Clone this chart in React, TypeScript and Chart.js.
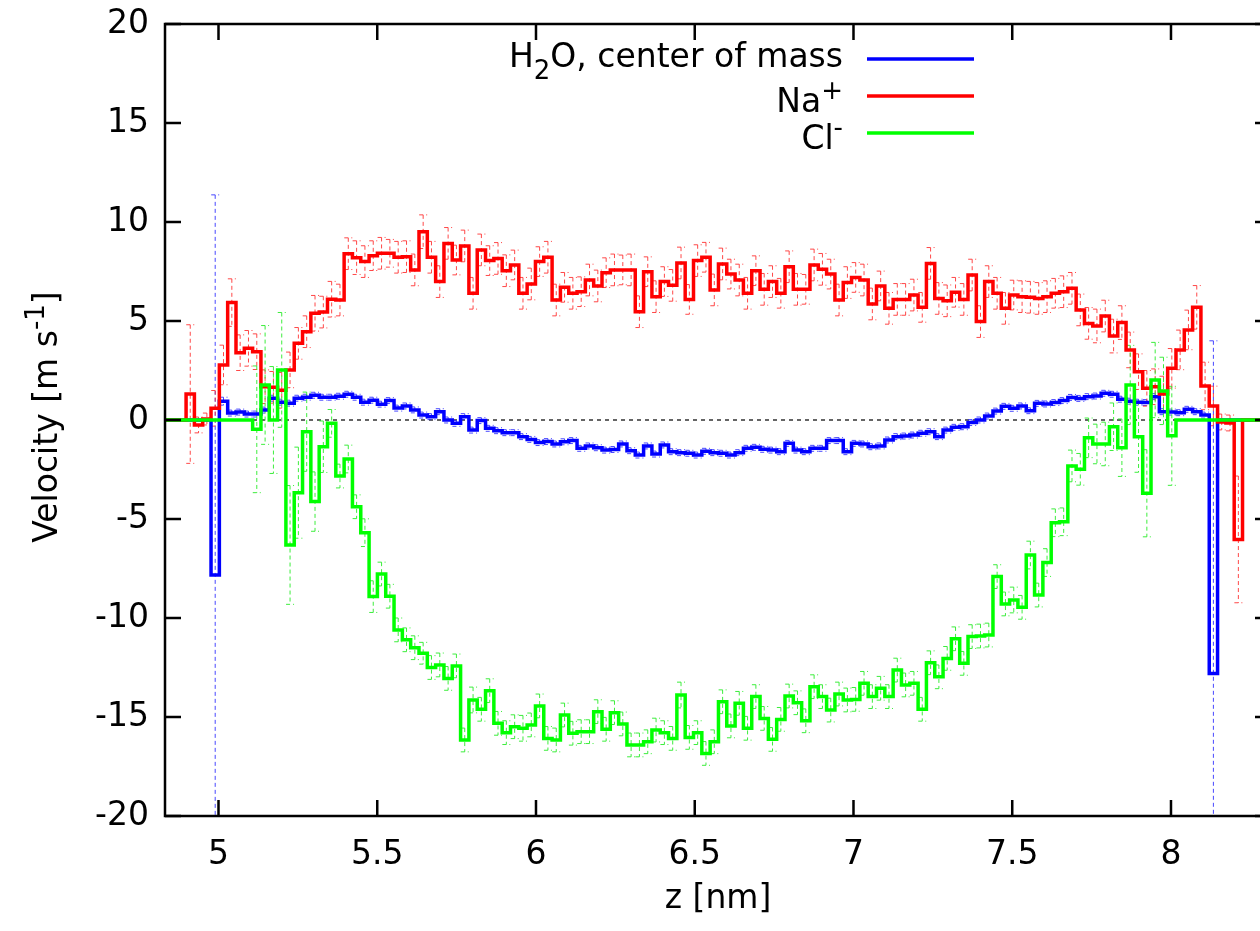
import React, { useEffect, useRef } from 'react';
import { Chart, registerables } from 'chart.js';

Chart.register(...registerables);

const FONT = '"DejaVu Sans", "Liberation Sans", Arial, sans-serif';

// bin grid (nm)
const FIRST_BIN_CENTER = 4.8324;
const BIN_WIDTH = 0.0262;

const X_MIN = 4.8315;
const X_MAX = 8.315;
const Y_MIN = -20;
const Y_MAX = 20;
const X_TICKS = [5, 5.5, 6, 6.5, 7, 7.5, 8];
const Y_TICKS = [-20, -15, -10, -5, 0, 5, 10, 15, 20];

const H2O_VELOCITY = [
  0, 0, 0, 0, 0, 0, -7.83, 0.95, 0.35, 0.4,
  0.3, 0.3, 0.5, 1.1, 0.9, 0.85, 1.1, 1.15, 1.25, 1.15,
  1.15, 1.2, 1.3, 1.15, 0.9, 1.0, 0.8, 0.98, 0.6, 0.71,
  0.51, 0.25, 0.17, 0.42, 0.0, -0.17, 0.17, -0.51, -0.03, -0.42,
  -0.54, -0.64, -0.64, -0.84, -0.98, -1.14, -1.09, -1.21, -1.1, -1.04,
  -1.43, -1.31, -1.4, -1.52, -1.49, -1.21, -1.55, -1.77, -1.31, -1.72,
  -1.26, -1.6, -1.65, -1.68, -1.77, -1.58, -1.65, -1.68, -1.77, -1.65,
  -1.43, -1.38, -1.48, -1.52, -1.6, -1.18, -1.52, -1.6, -1.43, -1.43,
  -1.04, -1.04, -1.6, -1.18, -1.21, -1.35, -1.31, -1.01, -0.84, -0.81,
  -0.76, -0.67, -0.59, -0.84, -0.51, -0.37, -0.34, -0.13, 0.0, 0.2,
  0.45, 0.69, 0.59, 0.71, 0.47, 0.84, 0.81, 0.88, 0.98, 1.14,
  1.09, 1.18, 1.21, 1.35, 1.3, 1.05, 0.95, 0.9, 0.88, 1.18,
  0.42, 0.4, 0.37, 0.54, 0.42, 0.25, -12.8, 0, 0, 0,
  0, 0, 0, 0,
];

const H2O_ERROR = [
  0, 0, 0, 0, 0, 0, 19.2, 0.2, 0.15, 0.15,
  0.15, 0.15, 0.15, 0.15, 0.15, 0.15, 0.15, 0.15, 0.15, 0.15,
  0.15, 0.15, 0.15, 0.15, 0.15, 0.15, 0.15, 0.15, 0.15, 0.15,
  0.15, 0.15, 0.15, 0.15, 0.15, 0.15, 0.15, 0.15, 0.15, 0.15,
  0.15, 0.15, 0.15, 0.15, 0.15, 0.15, 0.15, 0.15, 0.15, 0.15,
  0.15, 0.15, 0.15, 0.15, 0.15, 0.15, 0.15, 0.15, 0.15, 0.15,
  0.15, 0.15, 0.15, 0.15, 0.15, 0.15, 0.15, 0.15, 0.15, 0.15,
  0.15, 0.15, 0.15, 0.15, 0.15, 0.15, 0.15, 0.15, 0.15, 0.15,
  0.15, 0.15, 0.15, 0.15, 0.15, 0.15, 0.15, 0.15, 0.15, 0.15,
  0.15, 0.15, 0.15, 0.15, 0.15, 0.15, 0.15, 0.15, 0.15, 0.15,
  0.15, 0.15, 0.15, 0.15, 0.15, 0.15, 0.15, 0.15, 0.15, 0.15,
  0.15, 0.15, 0.15, 0.15, 0.15, 0.15, 0.15, 0.15, 0.15, 0.15,
  0.15, 0.15, 0.15, 0.15, 0.15, 0.15, 16.8, 0, 0, 0,
  0, 0, 0, 0,
];

const NA_VELOCITY = [
  0, 0, 0, 1.31, -0.25, 0.05, 0.59, 2.78, 5.93, 3.4,
  3.62, 3.45, 1.68, 1.65, 1.5, 2.53, 3.87, 4.46, 5.39, 5.45,
  6.1, 6.06, 8.4, 8.2, 8.0, 8.3, 8.42, 8.42, 8.22, 8.25,
  7.58, 9.51, 8.22, 6.99, 8.92, 8.08, 8.79, 6.4, 8.59, 8.05,
  8.16, 7.54, 7.83, 6.4, 6.87, 8.0, 8.22, 6.06, 6.7, 6.4,
  6.48, 7.07, 6.77, 7.44, 7.58, 7.58, 7.58, 5.47, 7.49, 6.23,
  6.99, 6.8, 7.93, 6.09, 8.05, 8.22, 6.57, 7.88, 7.37, 7.07,
  6.4, 7.54, 6.6, 6.99, 6.4, 7.74, 6.6, 6.6, 7.83, 7.61,
  7.37, 6.06, 6.94, 7.2, 7.07, 5.86, 6.77, 5.64, 6.09, 6.09,
  6.31, 5.69, 7.91, 6.14, 6.02, 6.45, 6.09, 7.32, 4.97, 6.99,
  6.4, 5.64, 6.31, 6.23, 6.2, 6.14, 6.23, 6.4, 6.48, 6.65,
  5.56, 4.88, 4.75, 5.25, 4.24, 4.92, 3.54, 2.44, 1.6, 1.68,
  1.31, 2.61, 3.54, 4.55, 5.69, 1.72, 0.71, -0.1, -0.15, -6.03,
  0, 0, 0, 0,
];

const NA_ERROR = [
  0, 0, 0, 3.5, 0.4, 0.3, 0.9, 1.0, 1.2, 0.9,
  0.9, 0.9, 0.85, 0.8, 0.9, 0.9, 0.8, 0.8, 0.9, 0.8,
  0.9, 0.8, 0.8, 0.85, 0.8, 0.75, 0.8, 0.7, 0.8, 0.8,
  0.8, 0.85, 0.8, 0.8, 0.8, 0.75, 0.8, 0.8, 0.8, 0.75,
  0.8, 0.8, 0.75, 0.8, 0.8, 0.75, 0.8, 0.8, 0.75, 0.8,
  0.75, 0.8, 0.8, 0.75, 0.8, 0.75, 0.8, 0.8, 0.75, 0.8,
  0.75, 0.8, 0.8, 0.75, 0.8, 0.75, 0.8, 0.8, 0.75, 0.8,
  0.8, 0.75, 0.8, 0.8, 0.75, 0.8, 0.8, 0.75, 0.8, 0.8,
  0.75, 0.8, 0.8, 0.75, 0.8, 0.8, 0.75, 0.8, 0.8, 0.8,
  0.8, 0.75, 0.8, 0.8, 0.8, 0.75, 0.8, 0.8, 0.8, 0.8,
  0.8, 0.8, 0.75, 0.8, 0.8, 0.8, 0.8, 0.75, 0.8, 0.8,
  0.8, 0.8, 0.85, 0.8, 0.85, 0.85, 0.9, 0.9, 0.9, 0.9,
  0.9, 1.0, 1.0, 1.0, 1.1, 1.2, 1.0, 0.4, 0.4, 3.2,
  0, 0, 0, 0,
];

const CL_VELOCITY = [
  0, 0, 0, 0, 0, 0, 0, 0, 0, 0,
  0, -0.47, 1.77, 0.0, 2.53, -6.31, -3.67, -0.59, -4.12, -1.35,
  -0.17, -2.83, -1.97, -4.38, -5.69, -8.92, -7.78, -8.9, -10.6, -11.1,
  -11.5, -11.78, -12.5, -12.37, -13.05, -12.42, -16.16, -14.14, -14.61, -13.67,
  -15.32, -15.79, -15.49, -15.57, -15.4, -14.44, -16.08, -16.16, -14.9, -15.82,
  -15.74, -15.74, -14.73, -15.62, -14.78, -15.35, -16.41, -16.41, -16.25, -15.66,
  -15.79, -16.08, -13.89, -16.03, -15.79, -16.84, -16.25, -14.23, -15.45, -14.31,
  -15.57, -13.97, -15.07, -16.13, -15.12, -13.94, -14.28, -15.19, -13.47, -13.97,
  -14.65, -13.84, -14.14, -14.11, -13.3, -13.97, -13.55, -13.97, -12.63, -13.38,
  -13.3, -14.61, -12.26, -12.97, -12.04, -11.05, -12.29, -10.94, -10.91, -10.86,
  -7.91, -9.29, -9.09, -9.46, -6.82, -8.84, -7.2, -5.19, -5.14, -2.32,
  -2.49, -0.9, -1.21, -1.21, -0.34, -1.4, 1.77, -0.84, -3.7, 2.02,
  1.47, -0.8, 0, 0, 0, 0, 0, 0, 0, 0,
  0, 0, 0, 0,
];

const CL_ERROR = [
  0, 0, 0, 0, 0, 0, 0, 0, 0, 0,
  0, 3.2, 3.0, 2.7, 2.9, 3.0, 2.3, 2.0, 1.5, 1.3,
  0.7, 0.6, 0.7, 0.6, 0.7, 0.8, 0.6, 0.6, 0.6, 0.6,
  0.6, 0.55, 0.6, 0.6, 0.6, 0.6, 0.6, 0.65, 0.6, 0.6,
  0.6, 0.6, 0.6, 0.65, 0.6, 0.6, 0.6, 0.6, 0.6, 0.6,
  0.6, 0.6, 0.6, 0.6, 0.6, 0.6, 0.6, 0.6, 0.6, 0.6,
  0.6, 0.6, 0.65, 0.6, 0.6, 0.6, 0.6, 0.6, 0.6, 0.6,
  0.6, 0.6, 0.6, 0.6, 0.6, 0.6, 0.6, 0.6, 0.6, 0.6,
  0.6, 0.6, 0.6, 0.6, 0.6, 0.6, 0.6, 0.6, 0.6, 0.6,
  0.6, 0.6, 0.6, 0.6, 0.6, 0.6, 0.6, 0.6, 0.6, 0.6,
  0.6, 0.6, 0.65, 0.6, 0.7, 0.6, 0.7, 0.7, 0.7, 0.8,
  0.8, 1.0, 1.0, 1.1, 1.2, 1.45, 2.0, 1.8, 2.2, 1.9,
  1.7, 2.5, 0, 0, 0, 0, 0, 0, 0, 0,
  0, 0, 0, 0,
];

type Seg = { t: string; sup?: boolean; sub?: boolean };

const SERIES = [
  { label: 'H2O, center of mass', rich: [{ t: 'H' }, { t: '2', sub: true }, { t: 'O, center of mass' }] as Seg[], values: H2O_VELOCITY, err: H2O_ERROR, color: '#0000ff', errColor: 'rgba(40,40,255,0.85)' },
  { label: 'Na+', rich: [{ t: 'Na' }, { t: '+', sup: true }] as Seg[], values: NA_VELOCITY, err: NA_ERROR, color: '#ff0000', errColor: 'rgba(255,40,40,0.85)' },
  { label: 'Cl-', rich: [{ t: 'Cl' }, { t: '-', sup: true }] as Seg[], values: CL_VELOCITY, err: CL_ERROR, color: '#00ff00', errColor: 'rgba(40,235,40,0.9)' },
];

const Y_TITLE: Seg[] = [{ t: 'Velocity [m s' }, { t: '-1', sup: true }, { t: ']' }];
const X_TITLE = 'z [nm]';

const FONT_SIZE = 33;
const TICK_LEN = 16;

function binCenter(i: number) {
  return FIRST_BIN_CENTER + i * BIN_WIDTH;
}

function histPoints(values: number[]) {
  const pts: { x: number; y: number }[] = [];
  values.forEach((v, i) => {
    const c = binCenter(i);
    pts.push({ x: c - BIN_WIDTH / 2, y: v });
    pts.push({ x: c + BIN_WIDTH / 2, y: v });
  });
  return pts;
}

function drawRich(ctx: CanvasRenderingContext2D, segs: Seg[], x: number, y: number, size: number, align: 'left' | 'right' | 'center') {
  const main = `${size}px ${FONT}`;
  const small = `${Math.round(size * 0.8)}px ${FONT}`;
  const widths = segs.map((s) => {
    ctx.font = s.sup || s.sub ? small : main;
    return ctx.measureText(s.t).width;
  });
  const total = widths.reduce((a, b) => a + b, 0);
  let cx = align === 'right' ? x - total : align === 'center' ? x - total / 2 : x;
  ctx.textAlign = 'left';
  ctx.textBaseline = 'alphabetic';
  segs.forEach((s, i) => {
    ctx.font = s.sup || s.sub ? small : main;
    const dy = s.sup ? -size * 0.38 : s.sub ? size * 0.36 : 0;
    ctx.fillText(s.t, cx, y + dy);
    cx += widths[i];
  });
}

const decorPlugin = {
  id: 'gnuplotDecor',
  beforeDatasetsDraw(chart: any) {
    const { ctx, chartArea: a, scales } = chart;
    const xs = scales.x;
    const ys = scales.y;
    ctx.save();
    ctx.beginPath();
    ctx.rect(a.left, a.top, a.right - a.left, a.bottom - a.top);
    ctx.clip();
    ctx.strokeStyle = '#000';
    ctx.lineWidth = 1.2;
    ctx.setLineDash([4, 4]);
    const y0 = ys.getPixelForValue(0);
    ctx.beginPath();
    ctx.moveTo(a.left, y0);
    ctx.lineTo(a.right, y0);
    ctx.stroke();
    ctx.lineWidth = 1;
    ctx.setLineDash([4, 3]);
    SERIES.forEach((s) => {
      ctx.strokeStyle = s.errColor;
      s.values.forEach((v, i) => {
        const e = s.err[i];
        if (!e) return;
        const px = xs.getPixelForValue(binCenter(i));
        const top = ys.getPixelForValue(v + e);
        const bot = ys.getPixelForValue(v - e);
        ctx.beginPath();
        ctx.moveTo(px, top);
        ctx.lineTo(px, bot);
        ctx.moveTo(px - 4, top);
        ctx.lineTo(px + 4, top);
        ctx.moveTo(px - 4, bot);
        ctx.lineTo(px + 4, bot);
        ctx.stroke();
      });
    });
    ctx.restore();
  },
  afterDraw(chart: any) {
    const { ctx, chartArea: a, scales } = chart;
    const xs = scales.x;
    const ys = scales.y;
    ctx.save();
    ctx.setLineDash([]);
    ctx.strokeStyle = '#000';
    ctx.lineWidth = 2.5;
    ctx.strokeRect(a.left, a.top, a.right - a.left, a.bottom - a.top);
    ctx.beginPath();
    X_TICKS.forEach((v) => {
      const px = xs.getPixelForValue(v);
      ctx.moveTo(px, a.bottom);
      ctx.lineTo(px, a.bottom - TICK_LEN);
      ctx.moveTo(px, a.top);
      ctx.lineTo(px, a.top + TICK_LEN);
    });
    Y_TICKS.forEach((v) => {
      const py = ys.getPixelForValue(v);
      ctx.moveTo(a.left, py);
      ctx.lineTo(a.left + TICK_LEN, py);
      ctx.moveTo(a.right, py);
      ctx.lineTo(a.right - TICK_LEN, py);
    });
    ctx.stroke();

    const lineY = [59, 96, 133];
    const baseY = [67, 112, 149];
    SERIES.forEach((s, k) => {
      ctx.fillStyle = '#000';
      drawRich(ctx, s.rich, 843, baseY[k], FONT_SIZE, 'right');
      ctx.strokeStyle = s.color;
      ctx.lineWidth = 3.5;
      ctx.beginPath();
      ctx.moveTo(867, lineY[k]);
      ctx.lineTo(974, lineY[k]);
      ctx.stroke();
    });

    ctx.fillStyle = '#000';
    ctx.translate(57, 417);
    ctx.rotate(-Math.PI / 2);
    drawRich(ctx, Y_TITLE, 0, 0, FONT_SIZE, 'center');
    ctx.restore();
  },
};

export default function App() {
  const ref = useRef<HTMLCanvasElement>(null);
  useEffect(() => {
    const canvas = ref.current;
    if (!canvas) return;
    const chart = new Chart(canvas, {
      type: 'line',
      data: {
        datasets: SERIES.map((s, k) => ({
          label: s.label,
          data: histPoints(s.values),
          borderColor: s.color,
          backgroundColor: s.color,
          borderWidth: 3.5,
          pointRadius: 0,
          tension: 0,
          fill: false,
          order: 3 - k,
          borderJoinStyle: 'miter',
          borderCapStyle: 'butt',
        })) as any,
      },
      options: {
        responsive: false,
        animation: false,
        devicePixelRatio: 1,
        parsing: false,
        normalized: true,
        layout: { padding: { top: 24, right: 9, left: 0, bottom: 0 } },
        plugins: { legend: { display: false }, tooltip: { enabled: false }, title: { display: false } },
        scales: {
          x: {
            type: 'linear',
            min: X_MIN,
            max: X_MAX,
            afterBuildTicks: (s: any) => {
              s.ticks = X_TICKS.map((v) => ({ value: v }));
            },
            afterFit: (s: any) => {
              s.height = 115;
              s.paddingLeft = 0;
              s.paddingRight = 0;
            },
            ticks: {
              autoSkip: false,
              maxRotation: 0,
              minRotation: 0,
              padding: 20,
              color: '#000',
              font: { family: FONT, size: FONT_SIZE },
              callback: (v: any) => String(v),
            },
            grid: { display: false, drawTicks: false },
            border: { display: false },
            title: {
              display: true,
              text: X_TITLE,
              color: '#000',
              font: { family: FONT, size: FONT_SIZE },
              padding: { top: 0, bottom: 12 },
            },
          },
          y: {
            type: 'linear',
            min: Y_MIN,
            max: Y_MAX,
            afterBuildTicks: (s: any) => {
              s.ticks = Y_TICKS.map((v) => ({ value: v }));
            },
            afterFit: (s: any) => {
              s.width = 165;
              s.paddingTop = 0;
              s.paddingBottom = 0;
            },
            ticks: {
              padding: 16,
              color: '#000',
              font: { family: FONT, size: FONT_SIZE },
              callback: (v: any) => String(v),
            },
            grid: { display: false, drawTicks: false },
            border: { display: false },
          },
        },
      } as any,
      plugins: [decorPlugin],
    });
    return () => chart.destroy();
  }, []);
  return (
    <div style={{ position: 'fixed', left: 0, top: 0, width: 1260, height: 931, overflow: 'hidden', background: '#fff' }}>
      <canvas ref={ref} width={1280} height={931} style={{ display: 'block', width: 1280, height: 931 }} />
    </div>
  );
}
